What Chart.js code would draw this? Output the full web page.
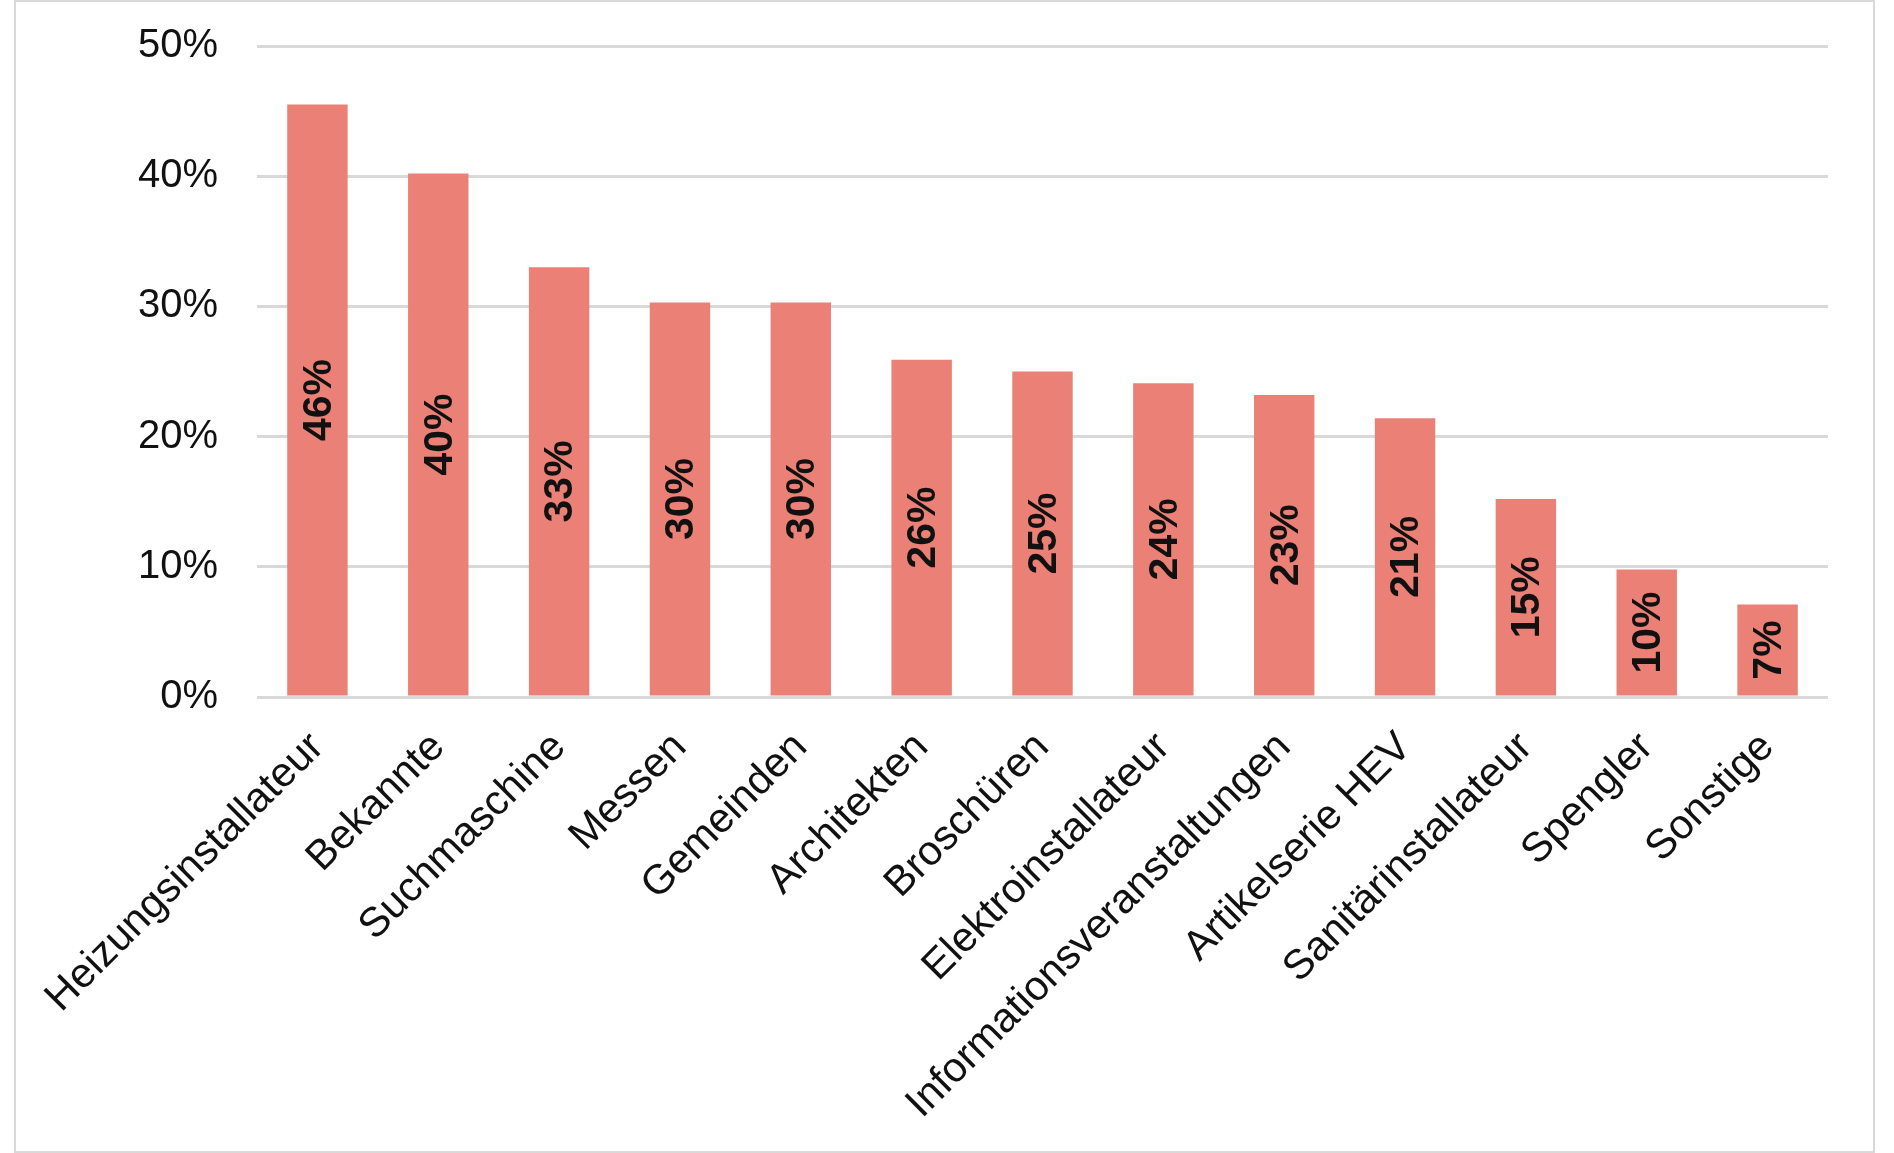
<!DOCTYPE html>
<html>
<head>
<meta charset="utf-8">
<script src="https://cdn.jsdelivr.net/npm/chart.js@4.4.1/dist/chart.umd.min.js"></script>
<style>
  html, body { margin: 0; padding: 0; background: #fff; }
  #wrap { position: relative; width: 1894px; height: 1153px; }
  #frame {
    position: absolute; left: 14px; top: 0; width: 1861px; height: 1153px;
    box-sizing: border-box; border: 2px solid #d9d9d9; pointer-events: none;
  }
  canvas { position: absolute; left: 0; top: 0; }
</style>
</head>
<body>
<div id="wrap">
  <canvas id="chart" width="1894" height="1153"></canvas>
  <div id="frame"></div>
</div>
<script>
// categorias y valores (%)
const categories = [
  "Heizungsinstallateur",
  "Bekannte",
  "Suchmaschine",
  "Messen",
  "Gemeinden",
  "Architekten",
  "Broschüren",
  "Elektroinstallateur",
  "Informationsveranstaltungen",
  "Artikelserie HEV",
  "Sanitärinstallateur",
  "Spengler",
  "Sonstige",
];
const values = [45.5, 40.2, 33.0, 30.3, 30.3, 25.9, 25.0, 24.1, 23.2, 21.4, 15.2, 9.8, 7.1];
const yTicks = [0, 10, 20, 30, 40, 50];

const fontFamily = "'Liberation Sans', Arial, sans-serif";
const barColor = "#ea8076";

// etiquetas dentro de las barras, giradas 90 grados
const barLabels = {
  id: "barLabels",
  afterDatasetsDraw(chart) {
    const ctx = chart.ctx;
    const meta = chart.getDatasetMeta(0);
    ctx.save();
    ctx.font = "bold 41px " + fontFamily;
    ctx.fillStyle = "#111";
    ctx.textAlign = "center";
    ctx.textBaseline = "middle";
    meta.data.forEach(function (bar, i) {
      const cy = (bar.y + bar.base) / 2;
      ctx.save();
      ctx.translate(bar.x, cy);
      ctx.rotate(-Math.PI / 2);
      ctx.fillText(Math.round(values[i]) + "%", 0, 2);
      ctx.restore();
    });
    ctx.restore();
  },
};

new Chart(document.getElementById("chart"), {
  type: "bar",
  data: {
    labels: categories,
    datasets: [
      {
        data: values,
        backgroundColor: barColor,
        borderWidth: 0,
        barPercentage: 0.5,
        categoryPercentage: 1.0,
      },
    ],
  },
  options: {
    responsive: false,
    animation: false,
    layout: { padding: { top: 46, right: 66, bottom: 0, left: 0 } },
    plugins: {
      legend: { display: false },
      tooltip: { enabled: false },
    },
    scales: {
      x: {
        grid: { display: false, drawTicks: false },
        border: { display: false },
        ticks: {
          color: "#111",
          font: { family: fontFamily, size: 41.5 },
          maxRotation: 45,
          minRotation: 45,
          padding: 26,
          autoSkip: false,
        },
        afterFit(scale) {
          scale.height = 456;
          scale.paddingLeft = 0;
          scale.paddingRight = 0;
        },
      },
      y: {
        min: 0,
        max: 50,
        afterBuildTicks(scale) {
          scale.ticks = yTicks.map((v) => ({ value: v }));
        },
        grid: { color: "#d9d9d9", lineWidth: 3, drawTicks: false },
        border: { display: false },
        ticks: {
          color: "#111",
          font: { family: fontFamily, size: 40 },
          padding: 39,
          callback: (v) => v + "%",
        },
        afterFit(scale) {
          scale.width = 257;
          scale.paddingTop = 0;
          scale.paddingBottom = 0;
        },
      },
    },
  },
  plugins: [barLabels],
});
</script>
</body>
</html>
